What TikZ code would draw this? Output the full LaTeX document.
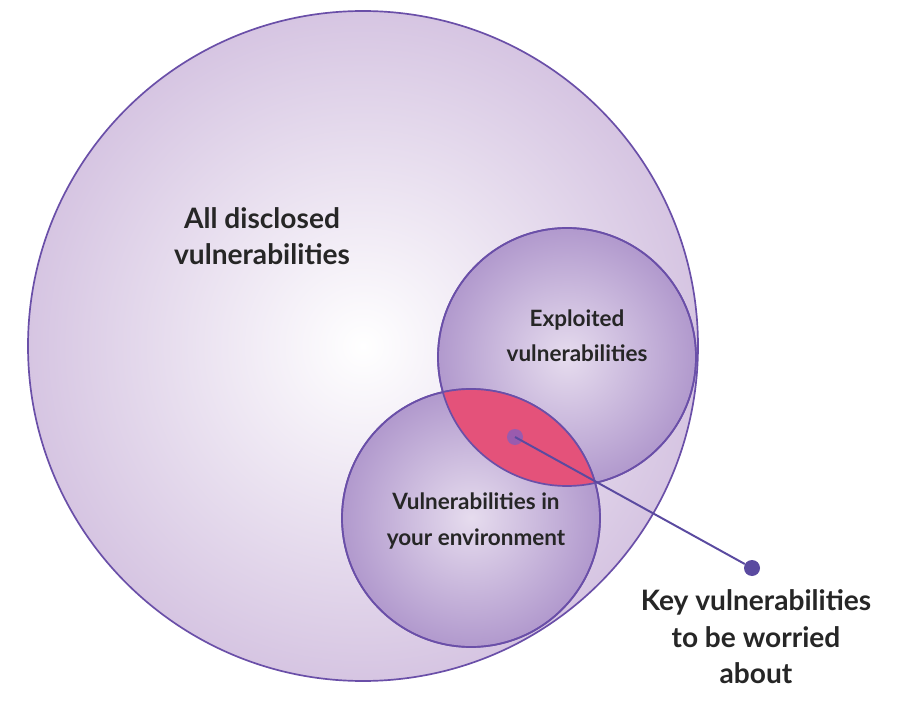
\documentclass[tikz,border=0pt]{standalone}
\usepackage{fontspec}
\setmainfont{Lato}
\usepackage{tikz}
\newcommand{\pxu}{0.025cm}
\definecolor{ringline}{HTML}{6A4FA8}
\definecolor{outerpurple}{HTML}{D6C5E2}
\definecolor{innerpurple}{HTML}{B199CD}
\definecolor{innerlight}{HTML}{E6DCEE}
\definecolor{keypink}{HTML}{E4527A}
\definecolor{dotblue}{HTML}{5A4AA0}
\definecolor{dotpurple}{HTML}{9A5BAE}

\begin{document}
\begin{tikzpicture}[
    bigcirc/.style={circle, draw=ringline, line width=1.2pt, inner sep=0pt, inner color=white, outer color=outerpurple},
    smallcirc/.style={circle, draw=ringline, line width=1.2pt, inner sep=0pt, inner color=innerlight, outer color=innerpurple},
    label/.style={align=center, font=\bfseries, text=black!85}]
    \useasboundingbox (0,0) rectangle (897*\pxu,-716*\pxu);
    % Circles
    \node[bigcirc, minimum size=670*\pxu] (all) at (363*\pxu,-346*\pxu) {};
    \node[smallcirc, minimum size=258*\pxu] (exp) at (567*\pxu,-357*\pxu) {};
    \node[smallcirc, minimum size=258*\pxu] (env) at (471*\pxu,-518*\pxu) {};

    % Overlap
    \begin{scope}
        \clip (exp.center) circle[radius=129*\pxu];
        \fill[keypink] (env.center) circle[radius=129*\pxu];
    \end{scope}
    \draw[ringline, line width=1.2pt] (exp.center) circle[radius=129*\pxu];
    \draw[ringline, line width=1.2pt] (env.center) circle[radius=129*\pxu];

    % Pointer
    \node[circle, fill=dotpurple, minimum size=16*\pxu, inner sep=0pt] (spot) at (515*\pxu,-437*\pxu) {};
    \node[circle, fill=dotblue, minimum size=16*\pxu, inner sep=0pt] (tip) at (752*\pxu,-568*\pxu) {};
    \draw[dotblue, line width=1.4pt] (spot.center) -- (tip);

    % Labels
    \node[label, font=\bfseries\fontsize{20}{26}\selectfont] (alltext) at (262*\pxu,-236*\pxu) {All disclosed\\vulnerabilities};
    \node[label, font=\bfseries\fontsize{16}{25}\selectfont] (exptext) at (577*\pxu,-336*\pxu) {Exploited\\vulnerabilities};
    \node[label, font=\bfseries\fontsize{16}{25}\selectfont] (envtext) at (476*\pxu,-521*\pxu) {Vulnerabilities in\\your environment};
    \node[label, font=\bfseries\fontsize{20}{26}\selectfont] (keytext) at (756*\pxu,-637*\pxu) {Key vulnerabilities\\to be worried\\about};
\end{tikzpicture}
\end{document}
